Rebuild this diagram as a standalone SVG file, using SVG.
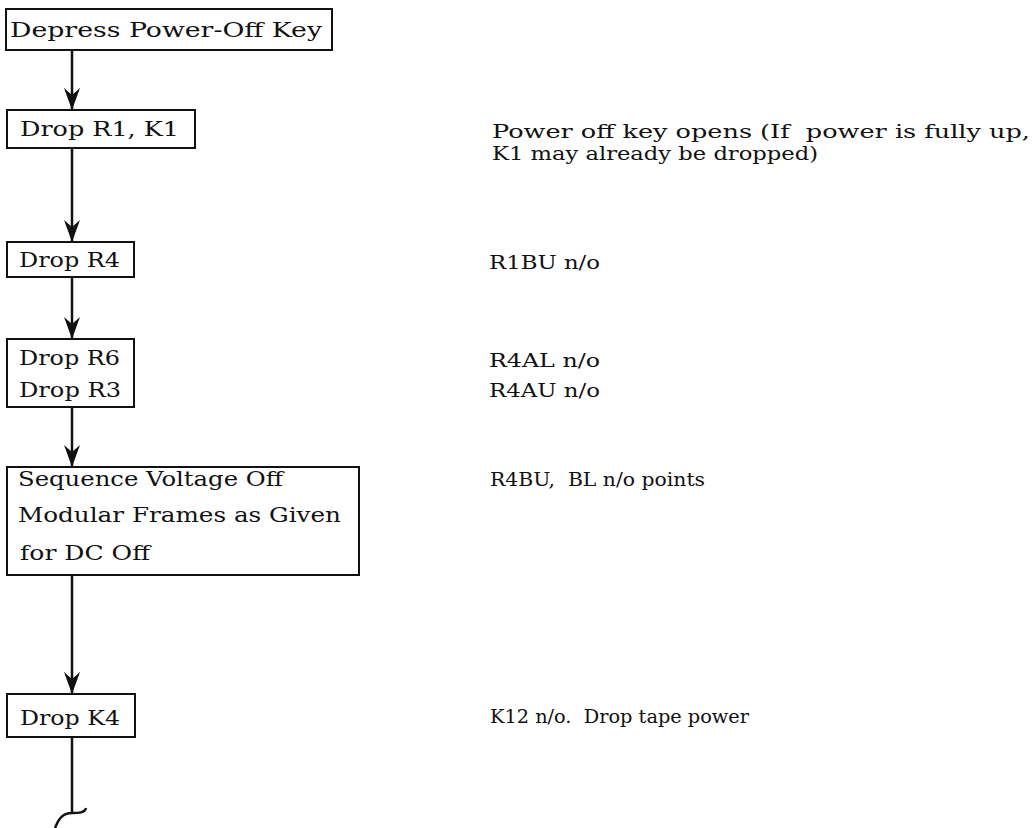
<svg xmlns="http://www.w3.org/2000/svg" width="1034" height="828" viewBox="0 0 1034 828">
<style>
.box{fill:#fff;stroke:#111;stroke-width:2}
.bt{font-family:"DejaVu Serif","Liberation Serif",serif;font-size:20px;fill:#111}
.nt{font-family:"DejaVu Serif","Liberation Serif",serif;font-size:18.5px;fill:#111}
.ln{fill:none;stroke:#111;stroke-width:2.5}
</style>
<defs>
<marker id="ah" viewBox="0 0 22 16" refX="22" refY="8" markerWidth="22" markerHeight="16" markerUnits="userSpaceOnUse" orient="auto">
<path d="M0,0 L22,8 L0,16 L7,8 Z" fill="#111"/>
</marker>
</defs>
<rect width="1034" height="828" fill="#fff"/>
<g id="connectors">
<line class="ln" x1="72" y1="50" x2="72" y2="110" marker-end="url(#ah)"/>
<line class="ln" x1="72" y1="148" x2="72" y2="242" marker-end="url(#ah)"/>
<line class="ln" x1="72" y1="277" x2="72" y2="339" marker-end="url(#ah)"/>
<line class="ln" x1="72" y1="407" x2="72" y2="467" marker-end="url(#ah)"/>
<line class="ln" x1="72" y1="575" x2="72" y2="694" marker-end="url(#ah)"/>
<path class="ln" d="M72,737 L72,813 M86,808 C85,813 78,813 72,813 C62,813 58,820 55,828"/>
</g>
<g id="n1">
<rect class="box" x="6" y="9" width="326" height="41"/>
<text class="bt" x="10" y="37" textLength="312" lengthAdjust="spacingAndGlyphs">Depress Power-Off Key</text>
</g>
<g id="n2">
<rect class="box" x="7" y="110" width="188" height="38"/>
<text class="bt" x="20" y="136" textLength="159" lengthAdjust="spacingAndGlyphs">Drop R1, K1</text>
</g>
<g id="n3">
<rect class="box" x="7" y="242" width="127" height="35"/>
<text class="bt" x="19" y="267" textLength="101" lengthAdjust="spacingAndGlyphs">Drop R4</text>
</g>
<g id="n4">
<rect class="box" x="7" y="339" width="127" height="68"/>
<text class="bt" x="19" y="365" textLength="101" lengthAdjust="spacingAndGlyphs">Drop R6</text>
<text class="bt" x="19" y="397" textLength="102" lengthAdjust="spacingAndGlyphs">Drop R3</text>
</g>
<g id="n5">
<rect class="box" x="7" y="467" width="352" height="108"/>
<text class="bt" x="18" y="486" textLength="265" lengthAdjust="spacingAndGlyphs">Sequence Voltage Off</text>
<text class="bt" x="18" y="522" textLength="323" lengthAdjust="spacingAndGlyphs">Modular Frames as Given</text>
<text class="bt" x="20" y="560" textLength="130" lengthAdjust="spacingAndGlyphs">for DC Off</text>
</g>
<g id="n6">
<rect class="box" x="7" y="694" width="128" height="43"/>
<text class="bt" x="20" y="725" textLength="100" lengthAdjust="spacingAndGlyphs">Drop K4</text>
</g>
<g id="notes">
<text class="nt" x="492" y="138" textLength="538" lengthAdjust="spacingAndGlyphs" xml:space="preserve">Power off key opens (If  power is fully up,</text>
<text class="nt" x="492" y="160" textLength="326" lengthAdjust="spacingAndGlyphs">K1 may already be dropped)</text>
<text class="nt" x="489" y="269" textLength="111" lengthAdjust="spacingAndGlyphs">R1BU n/o</text>
<text class="nt" x="489" y="367" textLength="111" lengthAdjust="spacingAndGlyphs">R4AL n/o</text>
<text class="nt" x="489" y="397" textLength="111" lengthAdjust="spacingAndGlyphs">R4AU n/o</text>
<text class="nt" x="490" y="486" textLength="215" lengthAdjust="spacingAndGlyphs" xml:space="preserve">R4BU,  BL n/o points</text>
<text class="nt" x="490" y="723" textLength="259" lengthAdjust="spacingAndGlyphs" xml:space="preserve">K12 n/o.  Drop tape power</text>
</g>
</svg>
